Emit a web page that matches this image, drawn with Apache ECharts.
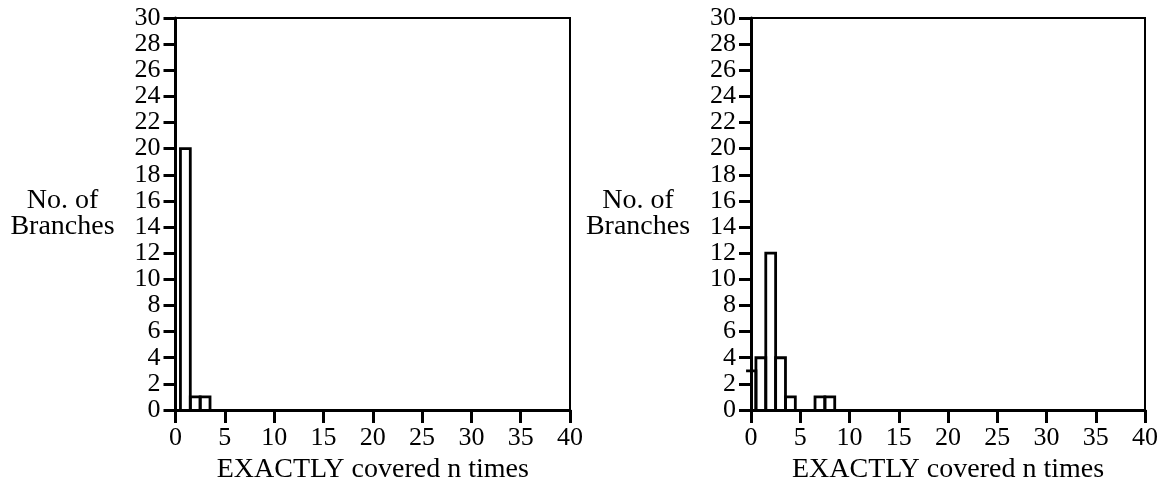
<!DOCTYPE html>
<html>
<head>
<meta charset="utf-8">
<script src="https://cdn.jsdelivr.net/npm/echarts@6/dist/echarts.min.js"></script>
<style>
  html, body { margin: 0; padding: 0; background: #fff; }
  #chart { width: 1169px; height: 484px; }
</style>
</head>
<body>
<div id="chart"></div>
<script>
// Number of branches covered exactly n times (index = n)
const leftCounts = [0, 20, 1, 1];
const rightCounts = [3, 4, 12, 4, 1, 0, 0, 1, 1];

const xTicks = [0, 5, 10, 15, 20, 25, 30, 35, 40];
const yTicks = [0, 2, 4, 6, 8, 10, 12, 14, 16, 18, 20, 22, 24, 26, 28, 30];
const xTitle = 'EXACTLY covered n times';
const yTitle = 'No. of\nBranches';

const FONT = 'Liberation Serif';
const INK = '#000';

function toPairs(counts) {
  return counts.map((v, n) => [n, v]);
}

// Each histogram box spans n-0.5 .. n+0.5; its left edge is dropped
// when it would fall left of the y axis.
function renderBox(params, api) {
  const n = api.value(0);
  const v = api.value(1);
  if (!v) return null;
  const tl = api.coord([n - 0.5, v]);
  const br = api.coord([n + 0.5, 0]);
  const pts = [];
  if (n - 0.5 >= 0) pts.push([tl[0], br[1]]);
  pts.push([tl[0], tl[1]], [br[0], tl[1]], [br[0], br[1]]);
  return {
    type: 'polyline',
    shape: { points: pts },
    style: { stroke: INK, lineWidth: 2.8, fill: null }
  };
}

function xAxis(gridIndex) {
  return {
    gridIndex, type: 'value',
    min: xTicks[0], max: xTicks[xTicks.length - 1],
    interval: xTicks[1] - xTicks[0],
    splitLine: { show: false },
    axisLine: { lineStyle: { color: INK, width: 3 } },
    axisTick: { length: 13, lineStyle: { color: INK, width: 3 } },
    axisLabel: { color: INK, fontFamily: FONT, fontSize: 26, margin: 15 },
    name: xTitle, nameLocation: 'middle', nameGap: 58,
    nameTextStyle: { color: INK, fontFamily: FONT, fontSize: 28, verticalAlign: 'middle' }
  };
}

function yAxis(gridIndex) {
  return {
    gridIndex, type: 'value',
    min: yTicks[0], max: yTicks[yTicks.length - 1],
    interval: yTicks[1] - yTicks[0],
    splitLine: { show: false },
    axisLine: { lineStyle: { color: INK, width: 3 } },
    axisTick: { length: 12, lineStyle: { color: INK, width: 3 } },
    axisLabel: { color: INK, fontFamily: FONT, fontSize: 26, margin: 15 },
    name: yTitle, nameLocation: 'middle', nameGap: 113, nameRotate: 0,
    nameTextStyle: { color: INK, fontFamily: FONT, fontSize: 28, lineHeight: 26,
                     align: 'center', verticalAlign: 'middle' }
  };
}

function grid(left, right) {
  return {
    left, right, top: 18, bottom: 74,
    outerBoundsMode: 'none', containLabel: false,
    show: true, borderColor: INK, borderWidth: 2, backgroundColor: 'transparent'
  };
}

const chart = echarts.init(document.getElementById('chart'));
chart.setOption({
  animation: false,
  backgroundColor: '#fff',
  grid: [grid(175.5, 599), grid(751, 24)],
  xAxis: [xAxis(0), xAxis(1)],
  yAxis: [yAxis(0), yAxis(1)],
  series: [
    { type: 'custom', xAxisIndex: 0, yAxisIndex: 0, clip: false,
      renderItem: renderBox, data: toPairs(leftCounts) },
    { type: 'custom', xAxisIndex: 1, yAxisIndex: 1, clip: false,
      renderItem: renderBox, data: toPairs(rightCounts) }
  ]
});
</script>
</body>
</html>
